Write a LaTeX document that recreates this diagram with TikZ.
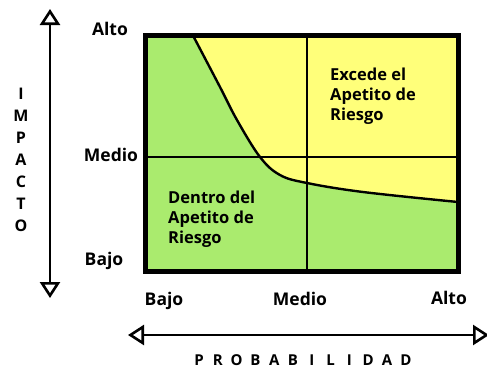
\documentclass[tikz,border=0pt]{standalone}
\usepackage{fontspec}
\setmainfont{Open Sans}
\usetikzlibrary{arrows.meta}
\definecolor{zgreen}{RGB}{170,235,110}
\definecolor{zyellow}{RGB}{255,255,122}
\tikzset{
  lbl/.style={font=\fontsize{17.5}{17.5}\selectfont\bfseries, inner sep=0pt},
  zone/.style={font=\fontsize{16.5}{20}\selectfont\bfseries, align=left, inner sep=0pt, anchor=north west},
  opentip/.tip={Triangle[open,length=16pt,width=20pt,line width=2.6pt]},
  axisarrow/.style={line width=2.8pt, opentip-opentip},
  grid line/.style={line width=2pt},
  ltr/.style={font=\fontsize{16}{16}\selectfont\bfseries, inner sep=0pt}
}
\begin{document}
\begin{tikzpicture}[x=1pt,y=-1pt]
\useasboundingbox (0,0) rectangle (487,368);
% regions
\fill[zgreen] (145.5,35.5) rectangle (458,271);
\fill[zyellow] (193,35.5) plot[smooth, tension=0.6] coordinates {(193,35.5) (220,87) (237,120) (260,157) (280,175) (307,183) (363,192) (458,202)} -- (458,35.5) -- cycle;
% grid lines
\coordinate (tm) at (307,35.5);
\coordinate (bm) at (307,271);
\coordinate (lm) at (145.5,157);
\coordinate (rm) at (458,157);
\draw[grid line] (tm) -- (bm);
\draw[grid line] (lm) -- (rm);
% curve
\draw[line width=2.4pt] plot[smooth, tension=0.6] coordinates {(193,35.5) (220,87) (237,120) (260,157) (280,175) (307,183) (363,192) (458,202)};
% frame
\draw[line width=5pt] (145.5,35.5) rectangle (458,271);
% zone text
\node[zone] (exc) at (330,68) {Excede el\\Apetito de\\Riesgo};
\node[zone] (den) at (168,191) {Dentro del\\Apetito de\\Riesgo};
% left labels
\node[lbl] (lalto) at (110,29) {Alto};
\node[lbl] (lmedio) at (111,155) {Medio};
\node[lbl] (lbajo) at (104,261) {Bajo};
% bottom labels
\node[lbl] (bbajo) at (164,301) {Bajo};
\node[lbl] (bmedio) at (300,299) {Medio};
\node[lbl] (balto) at (449,298) {Alto};
% axes
\coordinate (vtop) at (50,9);
\coordinate (vbot) at (50,298);
\draw[axisarrow] (vbot) -- (vtop);
\coordinate (hl) at (128,335);
\coordinate (hr) at (489,335);
\draw[axisarrow] (hl) -- (hr);
% IMPACTO
\foreach \c [count=\i from 0] in {I,M,P,A,C,T,O} {
  \node[ltr] (imp\i) at (21,{94+22*\i}) {\c};
}
% PROBABILIDAD
\foreach \c [count=\i from 0] in {P,R,O,B,A,B,I,L,I,D,A,D} {
  \node[ltr, anchor=base, font=\fontsize{15}{15}\selectfont\bfseries] (prob\i) at ({199+18.8*\i},365) {\c};
}
\end{tikzpicture}
\end{document}
